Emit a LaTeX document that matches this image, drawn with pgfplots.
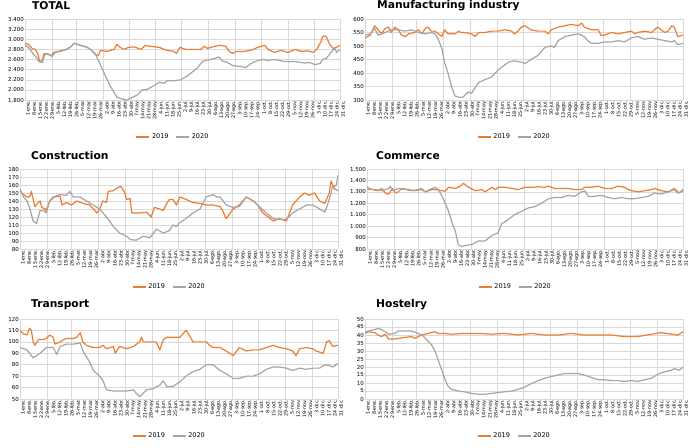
\documentclass[border=0pt]{standalone}
\usepackage{pgfplots}
\pgfplotsset{compat=1.18}
\usepackage{fontspec}
\setmainfont{DejaVu Sans}
\definecolor{or19}{HTML}{ED7D31}
\definecolor{gr20}{HTML}{A5A5A5}
\pgfplotsset{
  panel/.style={
    scale only axis, width=315pt, height=81pt,
    xmin=0, xmax=364,
    xtick={0,7,...,364},
    xticklabels={1-ene.,8-ene.,15-ene.,22-ene.,29-ene.,5-feb.,12-feb.,19-feb.,26-feb.,5-mar.,12-mar.,19-mar.,26-mar.,2-abr.,9-abr.,16-abr.,23-abr.,30-abr.,7-may.,14-may.,21-may.,28-may.,4-jun.,11-jun.,18-jun.,25-jun.,2-jul.,9-jul.,16-jul.,23-jul.,30-jul.,6-ago.,13-ago.,20-ago.,27-ago.,3-sep.,10-sep.,17-sep.,24-sep.,1-oct.,8-oct.,15-oct.,22-oct.,29-oct.,5-nov.,12-nov.,19-nov.,26-nov.,3-dic.,10-dic.,17-dic.,24-dic.,31-dic.},
    xticklabel style={rotate=90, anchor=east, font=\fontsize{4.8}{5}\selectfont, inner sep=0.5pt, yshift=-3pt},
    yticklabel style={font=\fontsize{5.5}{6}\selectfont, inner sep=1pt},
    major tick length=0pt, minor tick length=0pt,
    axis line style={draw=none},
    ymajorgrids,
    minor xtick={0,31,59,90,120,151,181,212,243,273,304,334,364},
    xminorgrids,
    minor grid style={draw=black!15, line width=0.5pt},
    major grid style={draw=black!15, line width=0.5pt},
    scaled y ticks=false,
    /pgf/number format/1000 sep={.},
    /pgf/number format/assume math mode=true,
    legend style={at={(0.47,0)}, anchor=center, draw=none, fill=none, legend columns=2,
      font=\fontsize{6.5}{7}\selectfont, inner sep=0pt,
      /tikz/every even column/.append style={column sep=5pt}},
    legend image code/.code={\draw[#1, line width=1.3pt] (0pt,0pt) -- (13pt,0pt);},
    every axis plot/.append style={line width=1.2pt, line join=round},
  }
}
\begin{document}
\begin{tikzpicture}
\path[use as bounding box] (0,0) rectangle (690pt,-447pt);
% ---------------- TOTAL
\begin{axis}[panel, at={(25pt,-100pt)}, anchor=south west, ymin=1800, ymax=3400, ytick={1800,2000,...,3400}, legend style={yshift=-37pt}]
\addplot[or19] coordinates {(0,2920)(4,2900)(8,2820)(12,2800)(15,2700)(17,2560)(20,2580)(22,2720)(27,2700)(31,2680)(33,2740)(41,2770)(48,2800)(52,2840)(57,2920)(64,2880)(72,2840)(77,2780)(81,2700)(85,2680)(87,2780)(95,2760)(103,2800)(106,2900)(110,2840)(114,2800)(120,2840)(126,2850)(134,2800)(139,2880)(145,2860)(155,2840)(164,2780)(172,2760)(175,2720)(179,2840)(186,2800)(195,2800)(203,2800)(207,2860)(211,2820)(219,2860)(226,2880)(232,2860)(236,2760)(240,2720)(244,2760)(253,2760)(261,2780)(269,2840)(277,2880)(281,2800)(288,2740)(296,2780)(304,2740)(312,2800)(319,2760)(327,2770)(333,2740)(337,2800)(342,2950)(344,3060)(348,3060)(352,2900)(356,2820)(360,2840)(364,2880)};
\addlegendentry{2019}
\addplot[gr20] coordinates {(0,2880)(4,2840)(10,2700)(13,2650)(16,2560)(20,2540)(23,2700)(26,2720)(31,2660)(35,2740)(45,2780)(52,2840)(57,2920)(64,2880)(72,2840)(77,2780)(81,2720)(87,2500)(91,2350)(95,2200)(99,2060)(103,1950)(106,1860)(112,1820)(118,1800)(124,1850)(130,1900)(135,2000)(141,2010)(149,2080)(155,2150)(161,2130)(164,2180)(172,2180)(180,2200)(188,2280)(193,2350)(199,2430)(205,2560)(211,2590)(219,2620)(224,2650)(228,2570)(234,2540)(240,2480)(250,2460)(255,2440)(261,2520)(269,2580)(275,2600)(281,2580)(288,2600)(300,2560)(312,2560)(323,2530)(329,2540)(335,2500)(341,2520)(344,2600)(348,2620)(354,2750)(358,2820)(360,2740)(364,2800)};
\addlegendentry{2020}
\end{axis}
% ---------------- Manufacturing
\begin{axis}[panel, at={(365pt,-100pt)}, anchor=south west, width=318pt, ymin=300, ymax=600, ytick={300,350,...,600}, legend style={yshift=-37pt}]
\addplot[or19] coordinates {(0,530)(6,540)(11,575)(15,560)(19,545)(23,565)(27,570)(30,550)(34,570)(38,560)(42,540)(46,535)(50,545)(57,550)(61,560)(65,545)(69,565)(72,570)(76,555)(80,555)(84,545)(88,535)(91,560)(95,545)(103,545)(107,555)(110,550)(114,550)(122,545)(126,535)(130,550)(137,550)(145,555)(152,555)(160,560)(168,555)(171,545)(175,555)(179,570)(183,575)(190,560)(198,555)(206,555)(210,545)(213,560)(221,570)(229,575)(236,580)(244,575)(248,585)(251,570)(259,560)(267,560)(270,540)(274,540)(282,550)(290,545)(297,550)(305,555)(309,545)(312,550)(320,555)(328,550)(335,570)(343,550)(347,555)(351,575)(354,570)(358,535)(364,540)};
\addlegendentry{2019}
\addplot[gr20] coordinates {(0,540)(6,545)(11,565)(15,540)(23,550)(30,560)(38,560)(46,555)(53,560)(61,550)(69,545)(76,550)(80,545)(84,525)(88,490)(91,440)(95,400)(99,350)(103,315)(108,310)(112,310)(118,330)(122,325)(126,345)(130,365)(137,375)(145,385)(149,400)(152,410)(156,420)(164,440)(171,445)(179,440)(183,435)(190,450)(198,465)(206,495)(213,500)(217,495)(221,520)(229,535)(236,540)(244,545)(251,535)(255,520)(259,510)(267,510)(274,515)(282,515)(290,520)(297,515)(305,530)(312,535)(320,525)(328,530)(335,525)(343,520)(351,515)(354,520)(358,505)(364,510)};
\addlegendentry{2020}
\end{axis}
% ---------------- Construction
\begin{axis}[panel, at={(20pt,-249pt)}, anchor=south west, width=318pt, height=80pt, ymin=80, ymax=180, ytick={80,90,...,180}, legend style={yshift=-38pt}]
\addplot[or19] coordinates {(0,152)(4,148)(8,145)(11,145)(13,152)(17,133)(21,138)(23,140)(25,132)(29,130)(30,128)(34,140)(38,145)(46,146)(48,135)(53,138)(59,135)(65,140)(72,137)(80,135)(88,125)(91,130)(95,140)(99,138)(101,152)(107,153)(112,157)(116,158)(120,150)(122,142)(126,143)(128,125)(137,125)(145,126)(150,120)(154,132)(160,130)(164,128)(168,137)(171,142)(175,142)(179,135)(183,145)(190,142)(198,138)(206,137)(213,135)(221,135)(229,133)(232,128)(236,118)(244,130)(251,135)(259,145)(267,140)(272,135)(278,125)(284,120)(290,115)(297,118)(305,115)(312,135)(320,145)(326,150)(331,147)(337,150)(343,140)(349,137)(352,145)(354,150)(356,165)(360,155)(364,153)};
\addlegendentry{2019}
\addplot[gr20] coordinates {(0,155)(4,145)(8,140)(11,132)(15,115)(19,112)(23,128)(27,128)(30,125)(34,140)(42,147)(46,148)(53,147)(57,152)(61,145)(69,145)(76,140)(84,135)(91,130)(99,120)(107,108)(114,100)(122,96)(126,92)(133,91)(141,96)(149,94)(156,105)(164,100)(171,103)(175,110)(179,108)(183,113)(190,118)(198,125)(206,130)(213,145)(221,148)(225,145)(229,145)(236,135)(244,132)(251,133)(259,145)(267,140)(274,133)(282,125)(290,118)(297,117)(305,117)(312,125)(320,130)(328,135)(335,135)(343,130)(349,126)(352,135)(356,150)(358,160)(360,158)(362,160)(364,172)};
\addlegendentry{2020}
\end{axis}
% ---------------- Commerce
\begin{axis}[panel, at={(367pt,-249pt)}, anchor=south west, width=316pt, height=80pt, ymin=800, ymax=1500, ytick={800,900,...,1500}, legend style={yshift=-38pt}]
\addplot[or19] coordinates {(0,1340)(6,1320)(13,1310)(17,1330)(21,1290)(25,1280)(29,1330)(33,1290)(36,1300)(40,1330)(48,1320)(55,1310)(63,1320)(67,1300)(75,1320)(79,1320)(86,1310)(90,1305)(94,1340)(102,1330)(105,1340)(109,1360)(111,1375)(117,1340)(125,1310)(132,1320)(136,1300)(144,1340)(148,1320)(151,1340)(159,1340)(167,1330)(174,1320)(178,1330)(182,1340)(190,1340)(197,1345)(205,1340)(209,1350)(216,1330)(224,1330)(232,1330)(239,1320)(247,1320)(251,1340)(259,1340)(266,1350)(274,1330)(282,1330)(289,1350)(297,1340)(301,1320)(305,1310)(312,1300)(320,1310)(328,1320)(331,1330)(339,1310)(347,1300)(354,1330)(358,1300)(360,1290)(364,1320)};
\addlegendentry{2019}
\addplot[gr20] coordinates {(0,1320)(10,1320)(17,1310)(25,1330)(27,1350)(29,1310)(36,1330)(44,1320)(52,1310)(59,1320)(63,1330)(67,1300)(75,1330)(79,1340)(82,1320)(86,1270)(90,1200)(94,1130)(98,1030)(102,950)(105,840)(109,820)(113,830)(121,840)(128,870)(136,870)(144,920)(151,940)(155,1020)(163,1060)(170,1100)(178,1130)(186,1160)(193,1170)(201,1200)(209,1240)(216,1250)(224,1250)(232,1270)(239,1260)(247,1300)(251,1310)(255,1260)(262,1260)(270,1270)(278,1250)(285,1240)(293,1250)(301,1240)(308,1240)(316,1250)(324,1260)(331,1290)(339,1280)(347,1300)(354,1320)(358,1290)(362,1300)(364,1310)};
\addlegendentry{2020}
\end{axis}
% ---------------- Transport
\begin{axis}[panel, at={(20pt,-399pt)}, anchor=south west, width=318pt, height=80pt, ymin=50, ymax=120, ytick={50,60,...,120}, legend style={yshift=-37pt}]
\addplot[or19] coordinates {(0,110)(4,107)(8,106)(11,112)(13,110)(15,100)(17,97)(21,102)(27,102)(30,103)(34,106)(38,104)(40,98)(46,100)(50,102)(53,103)(61,103)(65,104)(69,108)(72,100)(76,97)(84,95)(91,95)(95,97)(99,94)(107,96)(109,90)(114,96)(122,94)(130,96)(137,100)(139,104)(141,100)(149,100)(156,100)(160,93)(164,102)(168,104)(175,104)(183,104)(190,110)(192,108)(198,100)(206,100)(213,100)(217,97)(221,95)(229,95)(236,92)(244,88)(251,95)(259,92)(267,93)(274,93)(282,95)(290,97)(297,95)(305,94)(312,92)(316,88)(320,94)(328,95)(335,94)(339,92)(347,90)(351,100)(354,101)(358,96)(364,97)};
\addlegendentry{2019}
\addplot[gr20] coordinates {(0,95)(8,93)(11,90)(15,86)(23,90)(30,95)(38,95)(42,89)(46,96)(53,98)(61,98)(69,99)(72,92)(80,82)(84,75)(91,70)(95,66)(99,58)(107,57)(114,57)(122,57)(130,58)(133,55)(137,52)(145,58)(152,59)(160,62)(164,66)(168,61)(175,61)(183,65)(190,70)(198,74)(206,76)(213,80)(221,80)(229,75)(236,72)(244,68)(251,68)(259,70)(267,70)(274,72)(282,76)(290,78)(297,78)(305,77)(312,75)(320,77)(328,76)(335,77)(343,77)(347,79)(351,80)(358,78)(364,81)};
\addlegendentry{2020}
\end{axis}
% ---------------- Hostelry
\begin{axis}[panel, at={(365pt,-399pt)}, anchor=south west, width=318pt, height=80pt, ymin=0, ymax=50, ytick={0,5,...,50}, legend style={yshift=-37pt}]
\addplot[or19] coordinates {(0,41)(4,42)(11,41.5)(15,40)(19,39)(23,40.5)(27,37.5)(34,37.5)(46,38.5)(53,39)(57,38)(65,40)(72,41)(80,42)(84,41)(91,41)(99,40.5)(114,41)(130,41)(145,40.5)(160,41)(175,40)(190,41)(206,40)(221,40)(236,41)(251,40)(267,40)(282,40)(297,39)(312,39)(328,40.5)(339,41.5)(351,40.5)(358,40)(364,42)};
\addlegendentry{2019}
\addplot[gr20] coordinates {(0,42)(8,43)(15,44)(19,43.5)(23,42)(27,40.5)(34,41)(38,42.5)(46,42.5)(53,42.5)(61,41)(65,40)(69,38)(76,34)(80,30)(84,24)(88,18)(91,13)(95,8)(99,6)(107,5)(114,4.5)(122,3.5)(130,3)(137,3)(145,3.5)(152,4)(160,4.5)(168,5)(175,6)(183,7.5)(190,9.5)(198,11.5)(206,13)(213,14)(221,15)(229,16)(236,16)(244,16)(251,15)(259,13.5)(267,12)(274,12)(282,11.5)(290,11.5)(297,11)(305,11.5)(312,11)(320,12)(328,13)(335,15.5)(343,17)(351,18)(354,19)(360,18)(364,20)};
\addlegendentry{2020}
\end{axis}
% ---------------- titles
\begin{scope}[every node/.style={anchor=west, inner sep=0pt, font=\bfseries\fontsize{10.7}{12}\selectfont}]
\node at (32pt,-6pt) {TOTAL};
\node at (377pt,-6pt) {Manufacturing industry};
\node at (31pt,-156pt) {Construction};
\node at (376pt,-156pt) {Commerce};
\node at (31pt,-305pt) {Transport};
\node at (376pt,-305pt) {Hostelry};
\end{scope}
\end{tikzpicture}
\end{document}
